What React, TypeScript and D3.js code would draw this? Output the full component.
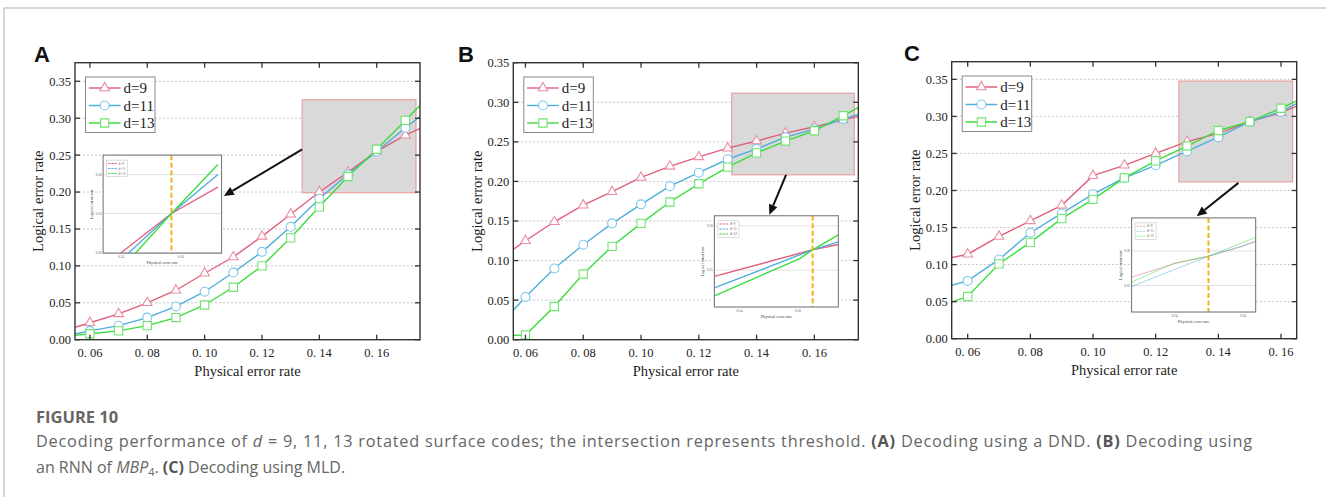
import React from "react";
import * as d3 from "d3";

// physical error rates sampled in the simulations
const xValuesAB = [0.05, 0.06, 0.07, 0.08, 0.09, 0.1, 0.11, 0.12, 0.13, 0.14, 0.15, 0.16, 0.17, 0.18];
const xValuesC = [0.05, 0.06, 0.07, 0.08, 0.09, 0.1, 0.11, 0.12, 0.13, 0.14, 0.15, 0.16, 0.17];

const seriesNames = ["d=9", "d=11", "d=13"];

// (A) DND
const dndD9 = [0.011, 0.023, 0.035, 0.05, 0.067, 0.09, 0.112, 0.14, 0.17, 0.2, 0.227, 0.255, 0.277, 0.295];
const dndD11 = [0.004, 0.012, 0.019, 0.03, 0.045, 0.065, 0.091, 0.119, 0.153, 0.191, 0.224, 0.255, 0.287, 0.317];
const dndD13 = [0.004, 0.008, 0.012, 0.019, 0.03, 0.047, 0.071, 0.1, 0.138, 0.18, 0.221, 0.258, 0.297, 0.337];

// (B) RNN of MBP4
const rnnD9 = [0.099, 0.125, 0.149, 0.17, 0.187, 0.205, 0.219, 0.231, 0.242, 0.251, 0.261, 0.269, 0.278, 0.286];
const rnnD11 = [0.014, 0.054, 0.09, 0.12, 0.147, 0.171, 0.194, 0.211, 0.228, 0.241, 0.256, 0.266, 0.279, 0.29];
const rnnD13 = [0.005, 0.006, 0.042, 0.083, 0.118, 0.147, 0.174, 0.197, 0.218, 0.236, 0.251, 0.264, 0.283, 0.303];

// (C) MLD
const mldD9 = [0.105, 0.114, 0.138, 0.159, 0.18, 0.22, 0.234, 0.25, 0.266, 0.277, 0.293, 0.305, 0.323];
const mldD11 = [0.0665, 0.078, 0.107, 0.143, 0.169, 0.195, 0.217, 0.234, 0.253, 0.272, 0.293, 0.306, 0.329];
const mldD13 = [0.042, 0.057, 0.101, 0.13, 0.162, 0.188, 0.217, 0.24, 0.26, 0.281, 0.293, 0.311, 0.331];

// zoomed insets: [x, y] points
type Pt = [number, number];
const insetA9: Pt[] = [[0.1395, 0.198], [0.1569, 0.25], [0.1725, 0.284]];
const insetA11: Pt[] = [[0.1421, 0.198], [0.1569, 0.25], [0.1725, 0.3]];
const insetA13: Pt[] = [[0.1446, 0.198], [0.1569, 0.25], [0.1725, 0.313]];
const insetB9: Pt[] = [[0.1314, 0.243], [0.165, 0.273], [0.1738, 0.279]];
const insetB11: Pt[] = [[0.1314, 0.23], [0.165, 0.273], [0.1738, 0.282]];
const insetB13: Pt[] = [[0.1314, 0.221], [0.1606, 0.263], [0.165, 0.273], [0.1738, 0.29]];
const insetC9: Pt[] = [[0.1274, 0.262], [0.14, 0.2816], [0.1499, 0.2923], [0.1601, 0.307], [0.1637, 0.3146]];
const insetC11: Pt[] = [[0.1274, 0.2485], [0.1499, 0.2923], [0.1637, 0.3131]];
const insetC13: Pt[] = [[0.1274, 0.2548], [0.14, 0.2825], [0.1499, 0.2923], [0.1637, 0.3195]];

const xTickValues = [0.06, 0.08, 0.1, 0.12, 0.14, 0.16];
const yTickValues = [0, 0.05, 0.1, 0.15, 0.2, 0.25, 0.3, 0.35];

const lineColors = ["#e0607c", "#4eaedc", "#3ddc3d"];
const markerColors = ["#ea8ea2", "#7cc6ea", "#6ee46e"];
const symbols = [d3.symbolTriangle, d3.symbolCircle, d3.symbolSquare];
const symbolSizes = [40, 62, 68];

const PW = 345;
const PH = 277;
const serif = "'Liberation Serif', 'Times New Roman', serif";

interface PanelCfg {
  id: string;
  letter: string;
  letterX: number;
  left: number;
  top: number;
  xDomain: [number, number];
  yDomain: [number, number];
  xs: number[];
  series: number[][];
  box: [number, number, number, number]; // x0, x1, y0, y1 (data)
  inset: [number, number, number, number]; // x0, x1, y0, y1 in main axes data
  arrow: [Pt, Pt];
  insetSeries: Pt[][];
  threshold: number;
  insetXTicks: number[];
  insetYTicks: number[];
  faded: boolean;
}

const panels: PanelCfg[] = [
  {
    id: "a", letter: "A", letterX: 34, left: 75, top: 62.7,
    xDomain: [0.0548, 0.1751], yDomain: [0, 0.3752],
    xs: xValuesAB, series: [dndD9, dndD11, dndD13],
    box: [0.134, 0.1737, 0.199, 0.325],
    inset: [0.0646, 0.1059, 0.1172, 0.25],
    arrow: [[0.134, 0.2577], [0.1067, 0.1946]],
    insetSeries: [insetA9, insetA11, insetA13], threshold: 0.1569,
    insetXTicks: [0.14, 0.16], insetYTicks: [0.2, 0.25, 0.3], faded: false,
  },
  {
    id: "b", letter: "B", letterX: 458, left: 513.3, top: 62.7,
    xDomain: [0.0558, 0.1752], yDomain: [0, 0.35],
    xs: xValuesAB, series: [rnnD9, rnnD11, rnnD13],
    box: [0.1314, 0.1738, 0.2083, 0.3115],
    inset: [0.1254, 0.1683, 0.0413, 0.1566],
    arrow: [[0.1502, 0.2083], [0.1444, 0.1578]],
    insetSeries: [insetB9, insetB11, insetB13], threshold: 0.165,
    insetXTicks: [0.14, 0.16], insetYTicks: [0.25, 0.3], faded: false,
  },
  {
    id: "c", letter: "C", letterX: 904, left: 951.7, top: 61.7,
    xDomain: [0.0549, 0.165], yDomain: [0, 0.3738],
    xs: xValuesC, series: [mldD9, mldD11, mldD13],
    box: [0.1274, 0.1637, 0.2116, 0.3477],
    inset: [0.1123, 0.1519, 0.036, 0.163],
    arrow: [[0.1464, 0.2103], [0.1331, 0.1653]],
    insetSeries: [insetC9, insetC11, insetC13], threshold: 0.1499,
    insetXTicks: [0.14, 0.16], insetYTicks: [0.25, 0.3], faded: true,
  },
];

const fmtY = d3.format(".2f");
const fmtX = (v: number) => d3.format(".2f")(v).replace(".", ". ");

function Arrow({ from, to }: { from: Pt; to: Pt }) {
  const ang = Math.atan2(to[1] - from[1], to[0] - from[0]);
  const len = 10;
  const hw = 4.5;
  const bx = to[0] - len * Math.cos(ang);
  const by = to[1] - len * Math.sin(ang);
  const px = -Math.sin(ang) * hw;
  const py = Math.cos(ang) * hw;
  return (
    <g>
      <line x1={from[0]} y1={from[1]} x2={bx} y2={by} stroke="#111" strokeWidth={2} />
      <polygon points={`${to[0]},${to[1]} ${bx + px},${by + py} ${bx - px},${by - py}`} fill="#111" />
    </g>
  );
}

function Inset({ cfg, x, y }: { cfg: PanelCfg; x: any; y: any }) {
  const ix0 = x(cfg.inset[0]);
  const ix1 = x(cfg.inset[1]);
  const iyTop = y(cfg.inset[3]);
  const iyBot = y(cfg.inset[2]);
  const xi = d3.scaleLinear().domain([cfg.box[0], cfg.box[1]]).range([ix0, ix1]);
  const yi = d3.scaleLinear().domain([cfg.box[2], cfg.box[3]]).range([iyBot, iyTop]);
  const line = d3.line<Pt>().x((d) => xi(d[0])).y((d) => yi(d[1]));
  const op = cfg.faded ? 0.5 : 1;
  const sw = cfg.faded ? 1 : 1.4;
  const clipId = `inset-clip-${cfg.id}`;
  return (
    <g>
      <clipPath id={clipId}>
        <rect x={ix0} y={iyTop} width={ix1 - ix0} height={iyBot - iyTop} />
      </clipPath>
      <rect x={ix0} y={iyTop} width={ix1 - ix0} height={iyBot - iyTop} fill="#fff" />
      {cfg.insetYTicks.map((t) => (
        <g key={t}>
          <line x1={ix0} x2={ix1} y1={yi(t)} y2={yi(t)} stroke="#d4d4d4" strokeWidth={0.7} />
          <text x={ix0 - 1.5} y={yi(t)} dy="0.35em" textAnchor="end" fontSize={3.4} fontFamily={serif} fill="#555">
            {fmtY(t)}
          </text>
        </g>
      ))}
      {cfg.insetXTicks.map((t) => (
        <text key={t} x={xi(t)} y={iyBot + 5} textAnchor="middle" fontSize={3.4} fontFamily={serif} fill="#555">
          {fmtY(t)}
        </text>
      ))}
      <text x={(ix0 + ix1) / 2} y={iyBot + 10.5} textAnchor="middle" fontSize={4.3} fontFamily={serif} fill="#444">
        Physical error rate
      </text>
      <text
        transform={`translate(${ix0 - 10},${(iyTop + iyBot) / 2}) rotate(-90)`}
        textAnchor="middle"
        fontSize={4.3}
        fontFamily={serif}
        fill="#444"
      >
        Logical error rate
      </text>
      <g clipPath={`url(#${clipId})`}>
        {cfg.insetSeries.map((s, i) => (
          <path key={i} d={line(s) || ""} fill="none" stroke={lineColors[i]} strokeWidth={sw} opacity={op} />
        ))}
      </g>
      <line
        x1={xi(cfg.threshold)}
        x2={xi(cfg.threshold)}
        y1={iyTop}
        y2={iyBot}
        stroke="#f2b21c"
        strokeWidth={2}
        strokeDasharray="5,2.5"
      />
      <g transform={`translate(${ix0 + 3.5},${iyTop + 5})`}>
        <rect width={21} height={16.5} fill="#fff" stroke="#bbb" strokeWidth={0.5} />
        {seriesNames.map((n, i) => (
          <g key={n} transform={`translate(0,${3.3 + i * 5})`}>
            <line x1={1.5} x2={11} y1={0} y2={0} stroke={lineColors[i]} strokeWidth={1.1} strokeDasharray="2.2,1" opacity={op} />
            <text x={12} y={0} dy="0.35em" fontSize={3.4} fontFamily={serif} fill="#555">
              {n}
            </text>
          </g>
        ))}
      </g>
      <rect x={ix0} y={iyTop} width={ix1 - ix0} height={iyBot - iyTop} fill="none" stroke="#7a7a7a" strokeWidth={1.1} />
    </g>
  );
}

function Panel({ cfg }: { cfg: PanelCfg }) {
  const x = d3.scaleLinear().domain(cfg.xDomain).range([cfg.left, cfg.left + PW]);
  const y = d3.scaleLinear().domain(cfg.yDomain).range([cfg.top + PH, cfg.top]);
  const line = d3.line<number>().x((_, i) => x(cfg.xs[i])).y((d) => y(d));
  const clipId = `clip-${cfg.id}`;
  const right = cfg.left + PW;
  const bottom = cfg.top + PH;
  const inRange = (v: number) => v >= cfg.xDomain[0] && v <= cfg.xDomain[1];

  return (
    <g>
      <clipPath id={clipId}>
        <rect x={cfg.left} y={cfg.top} width={PW} height={PH} />
      </clipPath>
      <text x={cfg.letterX} y={cfg.top - 1} fontFamily="'Liberation Sans', Arial, sans-serif" fontWeight="bold" fontSize={22} fill="#111">
        {cfg.letter}
      </text>

      {/* grid */}
      {yTickValues.filter((t) => t > 0).map((t) => (
        <line key={t} x1={cfg.left} x2={right} y1={y(t)} y2={y(t)} stroke="#bdbdbd" strokeWidth={0.9} strokeDasharray="2,2" />
      ))}

      {/* zoomed region */}
      <rect
        x={x(cfg.box[0])}
        y={y(cfg.box[3])}
        width={x(cfg.box[1]) - x(cfg.box[0])}
        height={y(cfg.box[2]) - y(cfg.box[3])}
        fill="#d9d9d9"
        stroke="#ea9a9a"
        strokeWidth={1.1}
      />

      <g clipPath={`url(#${clipId})`}>
        {cfg.series.map((s, i) => (
          <path key={i} d={line(s) || ""} fill="none" stroke={lineColors[i]} strokeWidth={1.4} />
        ))}
        {cfg.series.map((s, i) =>
          s.map((v, j) =>
            inRange(cfg.xs[j]) ? (
              <path
                key={`${i}-${j}`}
                d={d3.symbol().type(symbols[i]).size(symbolSizes[i])() || ""}
                transform={`translate(${x(cfg.xs[j])},${y(v)})`}
                fill="#fff"
                stroke={markerColors[i]}
                strokeWidth={1.1}
              />
            ) : null
          )
        )}
      </g>

      <Arrow from={[x(cfg.arrow[0][0]), y(cfg.arrow[0][1])]} to={[x(cfg.arrow[1][0]), y(cfg.arrow[1][1])]} />
      <Inset cfg={cfg} x={x} y={y} />

      {/* legend */}
      <g transform={`translate(${cfg.left + 10.5},${cfg.top + 14.3})`}>
        <rect width={69.5} height={55.5} fill="#fff" stroke="#8a8a8a" strokeWidth={1} />
        {seriesNames.map((n, i) => (
          <g key={n} transform={`translate(0,${11 + i * 17.5})`}>
            <line x1={3.3} x2={35} y1={0} y2={0} stroke={lineColors[i]} strokeWidth={1.4} />
            <path
              d={d3.symbol().type(symbols[i]).size(symbolSizes[i])() || ""}
              transform="translate(19.2,0)"
              fill="#fff"
              stroke={markerColors[i]}
              strokeWidth={1.1}
            />
            <text x={38} y={0} dy="0.35em" fontFamily={serif} fontSize={15} fill="#222">
              {n}
            </text>
          </g>
        ))}
      </g>

      {/* frame and ticks */}
      <rect x={cfg.left} y={cfg.top} width={PW} height={PH} fill="none" stroke="#333" strokeWidth={1.4} />
      {xTickValues.filter(inRange).map((t) => (
        <g key={t}>
          <line x1={x(t)} x2={x(t)} y1={bottom} y2={bottom - 5} stroke="#333" strokeWidth={1.3} />
          <line x1={x(t)} x2={x(t)} y1={cfg.top} y2={cfg.top + 5} stroke="#333" strokeWidth={1.3} />
          <text x={x(t)} y={bottom + 17} textAnchor="middle" fontFamily={serif} fontSize={12.5} fill="#222">
            {fmtX(t)}
          </text>
        </g>
      ))}
      {yTickValues.map((t) => (
        <g key={t}>
          <line x1={cfg.left} x2={cfg.left + 5} y1={y(t)} y2={y(t)} stroke="#333" strokeWidth={1.3} />
          <line x1={right} x2={right - 5} y1={y(t)} y2={y(t)} stroke="#333" strokeWidth={1.3} />
          <text x={cfg.left - 4} y={y(t)} dy="0.35em" textAnchor="end" fontFamily={serif} fontSize={12.5} fill="#222">
            {fmtY(t)}
          </text>
        </g>
      ))}
      <text x={cfg.left + PW / 2} y={bottom + 36} textAnchor="middle" fontFamily={serif} fontSize={14.5} fill="#222">
        Physical error rate
      </text>
      <text
        transform={`translate(${cfg.left - 36.7},${cfg.top + PH / 2}) rotate(-90)`}
        textAnchor="middle"
        dy="0.35em"
        fontFamily={serif}
        fontSize={14.5}
        fill="#222"
      >
        Logical error rate
      </text>
    </g>
  );
}

export default function App() {
  const cap = "'Open Sans', 'Lato', sans-serif";
  return (
    <svg width={1326} height={497} style={{ position: "absolute", left: 0, top: 0, background: "#fff" }}>
      <line x1={4} x2={1326} y1={8} y2={8} stroke="#c8c8c8" strokeWidth={1.5} />
      <line x1={4} x2={4} y1={8} y2={497} stroke="#c8c8c8" strokeWidth={1.5} />
      {panels.map((p) => (
        <Panel key={p.id} cfg={p} />
      ))}
      <text x={36} y={422.7} fontFamily={cap} fontWeight="bold" fontSize={16.5} fill="#666">
        FIGURE 10
      </text>
      <text x={36} y={446.5} fontFamily={cap} fontSize={16.3} fill="#666" textLength={1216} lengthAdjust="spacing">
        Decoding performance of <tspan fontStyle="italic">d</tspan> = 9, 11, 13 rotated surface codes; the intersection
        represents threshold. <tspan fontWeight="bold" fill="#555">(A)</tspan> Decoding using a DND.{" "}
        <tspan fontWeight="bold" fill="#555">(B)</tspan> Decoding using
      </text>
      <text x={36} y={472.5} fontFamily={cap} fontSize={16} fill="#666">
        an RNN of <tspan fontStyle="italic">MBP</tspan>
        <tspan fontSize={11} dy={3}>4</tspan>
        <tspan dy={-3}>. </tspan>
        <tspan fontWeight="bold" fill="#555">(C)</tspan> Decoding using MLD.
      </text>
    </svg>
  );
}
